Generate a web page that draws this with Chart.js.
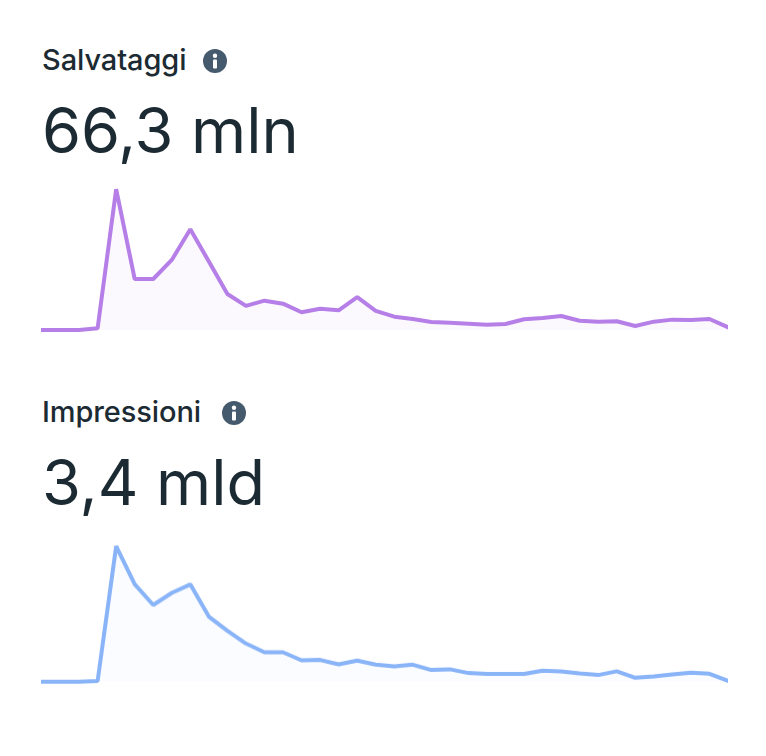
<!DOCTYPE html>
<html>
<head>
<meta charset="utf-8">
<script src="https://cdn.jsdelivr.net/npm/chart.js@4"></script>
<style>
  html, body { margin: 0; padding: 0; background: #fff; }
  body { position: relative; width: 766px; height: 756px; overflow: hidden; font-family: Inter, sans-serif; color: #1c2b33; }
  .label, .total { position: absolute; left: 42px; white-space: nowrap; }
  .label { font-size: 29px; font-weight: 500; line-height: 32px; letter-spacing: -0.1px; }
  .total { font-size: 63px; font-weight: 400; line-height: 76px; }
  .info { position: absolute; width: 24px; height: 24px; }
  .wrap { position: absolute; left: 32px; width: 706px; }
</style>
</head>
<body>
<div class="label" style="top:44px">Salvataggi</div>
<svg class="info" style="left:203px;top:49px" viewBox="0 0 24 24"><circle cx="12" cy="12" r="12" fill="#465a6e"/><circle cx="12" cy="6.8" r="2.2" fill="#fff"/><rect x="10" y="10.5" width="4" height="9" rx="1" fill="#fff"/></svg>
<div class="total" style="top:92px">66,3 mln</div>
<div class="wrap" style="top:181.14px;height:155px"><canvas id="chartSalvataggi"></canvas></div>

<div class="label" style="top:396px">Impressioni</div>
<svg class="info" style="left:222px;top:401px" viewBox="0 0 24 24"><circle cx="12" cy="12" r="12" fill="#465a6e"/><circle cx="12" cy="6.8" r="2.2" fill="#fff"/><rect x="10" y="10.5" width="4" height="9" rx="1" fill="#fff"/></svg>
<div class="total" style="top:444px">3,4 mld</div>
<div class="wrap" style="top:537.86px;height:148.84px"><canvas id="chartImpressioni"></canvas></div>

<script>
// valori, in milioni
const giorni = Array.from({ length: 38 }, (_, i) => i + 1);
const salvataggi = [0, 0, 0, 0.14, 11.82, 4.28, 4.28, 5.88, 8.46, 5.74, 3.02, 2.02, 2.46, 2.21, 1.49, 1.79, 1.65, 2.75, 1.6, 1.12, 0.92, 0.67, 0.61, 0.53, 0.45, 0.5, 0.9, 1.01, 1.18, 0.78, 0.7, 0.73, 0.34, 0.7, 0.87, 0.84, 0.92, 0.23];
const impressioni = [0, 0, 0, 2.7, 512, 368.6, 289.9, 335.5, 367.5, 245.9, 192.7, 144.4, 111.3, 111.3, 80.9, 82.5, 65.7, 79.8, 64.6, 58.5, 64.6, 44.5, 47.1, 33.1, 29.3, 29.3, 29.3, 41.8, 39.5, 31.9, 25.5, 39.5, 15.2, 20.5, 28.1, 34.2, 30.4, 3.8];

const creaGrafico = (id, dati, massimo, colore, riempimento) => {
    return new Chart(document.getElementById(id), {
        type: 'line',
        data: {
            labels: giorni,
            datasets: [{
                data: dati,
                borderColor: colore,
                backgroundColor: riempimento,
                borderWidth: 4,
                borderJoinStyle: 'bevel',
                borderCapStyle: 'square',
                pointRadius: 0,
                tension: 0,
                fill: 'origin',
                clip: { left: 1, right: 0, top: 5, bottom: 5 }
            }]
        },
        options: {
            responsive: true,
            maintainAspectRatio: false,
            animation: false,
            layout: { padding: { left: 10, right: 10, top: 6, bottom: 6 } },
            plugins: { legend: { display: false }, tooltip: { enabled: false } },
            scales: {
                x: { display: false, offset: false },
                y: { display: false, min: 0, max: massimo }
            }
        }
    });
};

creaGrafico('chartSalvataggi', salvataggi, 12, '#b67fe8', '#fcf9fe');
creaGrafico('chartImpressioni', impressioni, 520, '#8ab4f8', '#fafcff');
</script>
</body>
</html>
